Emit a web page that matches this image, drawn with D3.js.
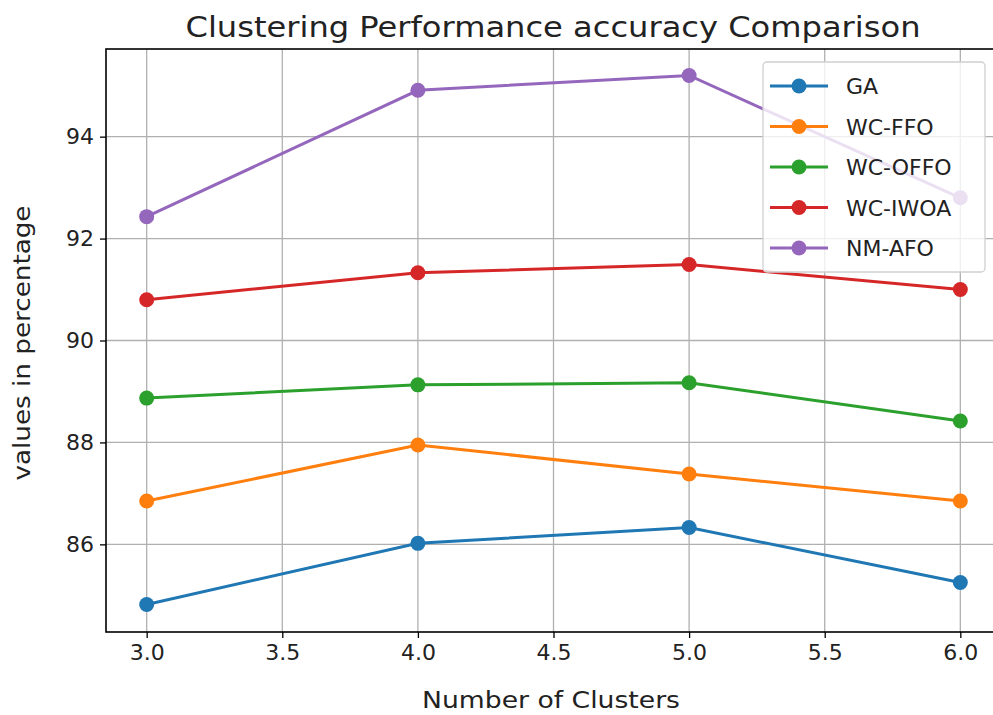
<!DOCTYPE html>
<html><head><meta charset="utf-8">
<script src="https://cdn.jsdelivr.net/npm/d3@7/dist/d3.min.js"></script>
<style>body{margin:0;background:#fff}svg{display:block;font-family:"DejaVu Sans",sans-serif}</style>
</head><body><svg id="c" width="993" height="715"></svg>
<script>
const clusters = [3, 4, 5, 6];
const seriesNames = ["GA", "WC-FFO", "WC-OFFO", "WC-IWOA", "NM-AFO"];
const gaValues = [84.82, 86.02, 86.33, 85.25];
const wcFfoValues = [86.85, 87.95, 87.38, 86.85];
const wcOffoValues = [88.87, 89.13, 89.17, 88.42];
const wcIwoaValues = [90.80, 91.33, 91.49, 91.00];
const nmAfoValues = [92.43, 94.91, 95.20, 92.80];
const xTicks = [3.0, 3.5, 4.0, 4.5, 5.0, 5.5, 6.0];
const yTicks = [86, 88, 90, 92, 94];
const colors = ["#1f77b4", "#ff7f0e", "#2ca02c", "#d62728", "#9467bd"];
const allSeries = [gaValues, wcFfoValues, wcOffoValues, wcIwoaValues, nmAfoValues];

const svg = d3.select("#c");
const L = 106, R = 1001, T = 49, B = 632;
const x = d3.scaleLinear().domain([2.85, 6.15]).range([L, R]);
const y = d3.scaleLinear().domain([84.28, 95.72]).range([B, T]);

// grid
const g = svg.append("g");
g.selectAll(".gx").data(xTicks).enter().append("line")
  .attr("x1", d => x(d)).attr("x2", d => x(d)).attr("y1", T).attr("y2", B)
  .attr("stroke", "#b0b0b0").attr("stroke-width", 1.3);
g.selectAll(".gy").data(yTicks).enter().append("line")
  .attr("x1", L).attr("x2", R).attr("y1", d => y(d)).attr("y2", d => y(d))
  .attr("stroke", "#b0b0b0").attr("stroke-width", 1.3);

// lines
const line = d3.line().x((d, i) => x(clusters[i])).y(d => y(d));
allSeries.forEach((vals, k) => {
  svg.append("path").datum(vals).attr("d", line).attr("fill", "none")
    .attr("stroke", colors[k]).attr("stroke-width", 3);
  svg.selectAll(null).data(vals).enter().append("circle")
    .attr("cx", (d, i) => x(clusters[i])).attr("cy", d => y(d)).attr("r", 7.5)
    .attr("fill", colors[k]);
});

// axes
const xAxis = d3.axisBottom(x).tickValues(xTicks).tickFormat(d3.format(".1f")).tickSize(6).tickPadding(6);
const yAxis = d3.axisLeft(y).tickValues(yTicks).tickFormat(d3.format("d")).tickSize(6).tickPadding(6);
const xa = svg.append("g").attr("transform", `translate(0,${B})`).call(xAxis);
const ya = svg.append("g").attr("transform", `translate(${L},0)`).call(yAxis);
[xa, ya].forEach(a => {
  a.select(".domain").remove();
  a.selectAll("line").attr("stroke", "#000").attr("stroke-width", 1.3);
  a.selectAll("text").attr("font-size", 22).attr("fill", "#222").attr("font-family", "DejaVu Sans");
});
// spines
svg.append("rect").attr("x", L).attr("y", T).attr("width", R - L).attr("height", B - T)
  .attr("fill", "none").attr("stroke", "#000").attr("stroke-width", 1.6);

// title & labels
svg.append("text").attr("x", 553).attr("y", 37).attr("text-anchor", "middle")
  .attr("font-size", 29).attr("fill", "#222").attr("textLength", 735).attr("lengthAdjust", "spacingAndGlyphs")
  .text("Clustering Performance accuracy Comparison");
svg.append("text").attr("x", 551).attr("y", 708).attr("text-anchor", "middle")
  .attr("font-size", 23).attr("fill", "#222").attr("textLength", 258).attr("lengthAdjust", "spacingAndGlyphs")
  .text("Number of Clusters");
svg.append("text").attr("transform", "translate(30,343) rotate(-90)").attr("text-anchor", "middle")
  .attr("font-size", 23).attr("fill", "#222").attr("textLength", 275).attr("lengthAdjust", "spacingAndGlyphs")
  .text("values in percentage");

// legend
const lg = svg.append("g");
lg.append("rect").attr("x", 763).attr("y", 62).attr("width", 222).attr("height", 210).attr("rx", 4)
  .attr("fill", "#fff").attr("fill-opacity", 0.8).attr("stroke", "#d0d0d0").attr("stroke-width", 1.3);
seriesNames.forEach((name, k) => {
  const yy = 86 + k * 40.5;
  lg.append("line").attr("x1", 770).attr("x2", 828).attr("y1", yy).attr("y2", yy)
    .attr("stroke", colors[k]).attr("stroke-width", 3);
  lg.append("circle").attr("cx", 799).attr("cy", yy).attr("r", 7.5).attr("fill", colors[k]);
  lg.append("text").attr("x", 846).attr("y", yy + 8).attr("font-size", 22).attr("fill", "#222").text(name);
});
</script></body></html>
